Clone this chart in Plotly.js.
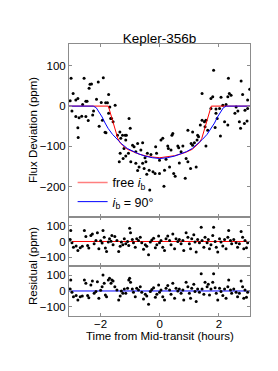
<!DOCTYPE html>
<html>
<head>
<meta charset="utf-8">
<script src="https://cdn.plot.ly/plotly-3.0.1.min.js"></script>
<style>html,body{margin:0;padding:0;background:#fff;}#chart{width:278px;height:371px;}</style>
</head>
<body>
<div id="chart"></div>
<script>
// ---- data ----
const titleText = "Kepler-356b";
const fluxX = [-3.03,-2.84,-2.77,-2.93,-3.0,-2.56,-2.39,-2.36,-2.08,-1.91,-2.5,-2.46,-2.61,-2.14,-1.98,-1.83,-1.73,-1.77,-1.69,-1.51,-2.97,-2.84,-2.73,-2.64,-2.5,-2.42,-2.27,-2.24,-2.77,-2.05,-1.94,-1.85,-1.73,-1.66,-1.63,-1.58,-1.04,-1.0,-1.35,-1.26,-1.13,-1.43,-2.76,-1.82,-2.31,
-1.17,-1.32,-1.15,-1.21,-1.34,-0.92,-0.87,-0.75,-0.58,-0.64,-0.81,-1.37,-1.24,-1.15,-1.06,-0.98,-0.81,-0.70,-0.75,-0.58,-0.47,-0.53,-0.44,-0.36,-0.23,-0.16,-0.14,-0.11,-0.30,-0.42,-0.50,-0.34,
0.04,0.10,0.41,0.44,0.27,0.29,0.38,0.61,0.78,0.64,0.72,-0.01,0.21,0.33,-0.01,0.16,0.47,0.52,0.66,0.89,0.95,1.04,1.23,0.86,0.14,0.95,1.11,1.06,1.11,1.17,1.26,1.31,1.56,1.62,2.05,1.87,1.28,
1.82,2.32,2.75,1.43,1.73,1.79,2.07,2.30,2.35,2.41,2.80,2.97,3.04,1.73,1.90,2.02,2.13,2.24,2.58,2.64,2.54,2.88,2.97,1.90,1.94,2.19,2.30,2.69,2.73,2.86,2.95,1.43,1.37,1.51,1.56,1.53];
const fluxY = [13,15,19,31,69,69,44,54,60,70,12,12,4,17,9,8,29,8,-2,2,-12,-26,-29,-25,-26,-36,-22,-12,-54,-50,-35,-65,-18,-31,-31,-39,-31,-55,-64,-72,-72,-72,-78,-66,55,
-72,-80,-84,-105,-117,-97,-101,-93,-91,-109,-113,-138,-130,-124,-117,-138,-142,-151,-160,-142,-138,-155,-169,-159,-163,-167,-101,-117,-120,-117,-128,-208,
-84,-80,-72,-68,-99,-105,-109,-99,-99,-103,-113,-134,-132,-151,-167,-159,-167,-174,-141,-130,-138,-155,-151,-179,-199,-60,-64,-93,-97,-91,-84,-76,-99,-60,-74,-53,-72,
89,69,62,31,19,23,22,23,31,27,29,15,42,-6,-7,-6,2,4,-2,-12,-18,-10,-6,-18,-31,-39,-47,-39,-55,-43,-37,-35,-47,-39,-35,-51];

const freeModelX = [-3.07,-1.74,-1.6,-1.5,-1.42,-1.35,-1.25,-1.1,-0.9,-0.7,-0.5,-0.3,0,0.3,0.5,0.7,0.9,1.1,1.25,1.35,1.42,1.5,1.6,1.74,3.05];
const freeModelY = [0,0,-35,-60,-80,-90,-98,-107,-114,-119,-123,-126,-128,-126,-123,-119,-114,-107,-98,-90,-80,-60,-35,0,0];
const i90ModelX = [-3.07,-2.25,-2.15,-2.05,-1.95,-1.85,-1.75,-1.6,-1.45,-1.3,-1.1,-0.9,-0.7,-0.5,-0.25,0,0.25,0.5,0.7,0.9,1.1,1.3,1.45,1.6,1.75,1.85,1.95,2.05,2.15,2.25,3.05];
const i90ModelY = [0,0,-4,-14,-27,-42,-55,-70,-82,-93,-105,-113,-119,-124,-128,-130,-128,-124,-119,-113,-105,-93,-82,-70,-55,-42,-27,-14,-4,0,0];

const resFreeX = [-3.01,-3.03,-2.97,-2.92,-2.83,-2.77,-2.69,-2.62,-2.55,-2.50,-2.44,-2.40,-2.33,-2.28,-2.22,-2.16,-2.11,-2.06,-2.00,-1.95,-1.92,-1.88,-1.84,-1.80,-1.74,-1.70,-1.65,-1.62,-1.58,-1.52,-1.45,-1.39,-1.34,-1.30,-1.25,-1.20,-1.15,-1.09,-1.05,-1.02,-0.99,-0.93,-0.89,-0.83,-0.78,-0.72,-0.66,-0.61,-0.55,-0.49,-0.44,-0.38,-0.32,-0.27,-0.21,-0.15,-0.10,-0.04,
-0.01,0.04,0.10,0.16,0.21,0.27,0.33,0.38,0.44,0.50,0.55,0.61,0.66,0.72,0.78,0.81,0.89,0.95,1.00,1.04,1.08,1.15,1.19,1.23,1.28,1.34,1.40,1.43,1.49,1.53,1.60,1.64,1.68,1.73,1.79,1.82,1.87,1.91,1.96,2.02,2.07,2.13,2.19,2.24,2.30,2.33,2.39,2.43,2.50,2.58,2.63,2.69,2.75,2.80,2.84,2.88,2.93,2.97];
const resFreeY = [69,13,-8,-36,-29,-57,-40,-31,69,31,-25,-42,38,48,-15,6,55,-46,4,-10,69,27,-42,-63,-4,17,2,38,-21,31,6,-63,-31,-4,-21,17,-15,0,-25,84,55,13,-8,-36,17,6,27,-8,-50,-21,-31,-84,-4,10,21,-40,-21,34,
-8,6,-36,-57,17,34,6,-21,48,-46,17,0,13,-15,6,-57,55,27,-15,-46,17,42,-4,-67,13,-8,90,6,-36,27,-8,13,-46,-21,38,90,0,-36,-67,17,-4,-29,13,-46,27,69,6,-15,13,-8,-36,-15,63,27,-46,6,-40,-8];

const resI90X = resFreeX.slice();
const resI90Y = [69,13,-8,-36,-29,-57,-36,-31,69,48,-29,-42,38,63,-15,-4,59,-46,4,27,101,48,-25,-36,69,80,48,69,63,27,6,-57,-31,0,-15,13,-15,17,69,80,55,13,-8,-36,17,6,27,-8,-50,-21,-31,-84,-4,10,21,-40,-21,38,
-8,6,-36,-57,17,34,6,-21,48,-46,17,0,13,-15,6,-57,55,27,-15,-46,17,42,-4,-67,13,-8,109,13,-21,55,27,42,-25,13,55,109,21,-15,-57,17,-4,-29,13,-46,27,69,6,-15,13,-8,-36,-15,63,27,-46,6,-40,-8];

const resZeroX = [-3.07, 3.05];
const resZeroY = [0, 0];

const xTickVals = [-2, 0, 2];
const xTitle = "Time from Mid-transit (hours)";
const yTitleMain = "Flux Deviation (ppm)";
const yTitleRes = "Residual (ppm)";
const legendFree = "free <i>i</i><sub>b</sub>";
const legend90 = "<i>i</i><sub>b</sub> = 90°";

// ---- chart ----
const FONT = "Liberation Sans, Arial, sans-serif";
const GRAY = "#8c8c8c";
const dot = {color: "black", size: 3};

const traces = [
  {x: fluxX, y: fluxY, xaxis: "x3", yaxis: "y3", mode: "markers", marker: dot, showlegend: false, hoverinfo: "skip"},
  {x: freeModelX, y: freeModelY, xaxis: "x3", yaxis: "y3", mode: "lines", line: {color: "red", width: 1}, showlegend: false},
  {x: i90ModelX, y: i90ModelY, xaxis: "x3", yaxis: "y3", mode: "lines", line: {color: "blue", width: 1}, showlegend: false},
  {x: [null], y: [null], xaxis: "x3", yaxis: "y3", mode: "lines", line: {color: "rgba(255,0,0,0.5)", width: 1.5}, name: legendFree},
  {x: [null], y: [null], xaxis: "x3", yaxis: "y3", mode: "lines", line: {color: "blue", width: 1}, name: legend90},
  {x: resZeroX, y: resZeroY, xaxis: "x2", yaxis: "y2", mode: "lines", line: {color: "red", width: 1}, showlegend: false},
  {x: resFreeX, y: resFreeY, xaxis: "x2", yaxis: "y2", mode: "markers", marker: dot, showlegend: false},
  {x: resZeroX, y: resZeroY, xaxis: "x", yaxis: "y", mode: "lines", line: {color: "blue", width: 1}, showlegend: false},
  {x: resI90X, y: resI90Y, xaxis: "x", yaxis: "y", mode: "markers", marker: dot, showlegend: false}
];

const xRange = [-3.07, 3.05];
function xAx(show, anchor) {
  return {range: xRange, domain: [0, 1], anchor: anchor, tickvals: xTickVals, showticklabels: show,
    ticks: "inside", ticklen: 3, tickcolor: GRAY, showline: true, mirror: "ticks", linecolor: GRAY, linewidth: 1,
    showgrid: false, zeroline: false, tickfont: {size: 11.5, color: "#000"}, ticklabelstandoff: -3};
}
function yAx(range, domain, anchor) {
  return {range: range, domain: domain, anchor: anchor, dtick: 100, tick0: 0,
    ticks: "inside", ticklen: 3, tickcolor: GRAY, showline: true, mirror: "ticks", linecolor: GRAY, linewidth: 1,
    showgrid: false, zeroline: false, tickfont: {size: 11.5, color: "#000"}};
}

const layout = {
  width: 278, height: 371,
  margin: {l: 69, r: 28, t: 44, b: 55},
  paper_bgcolor: "white", plot_bgcolor: "white",
  font: {family: FONT, color: "#000"},
  title: {text: titleText, font: {size: 13.5, family: FONT}, x: 0.5, xref: "paper", y: 1 - 38/371, yanchor: "middle"},
  xaxis: xAx(true, "y"),
  xaxis2: xAx(false, "y2"),
  xaxis3: xAx(false, "y3"),
  yaxis: yAx([-158, 158], [0, 0.184], "x"),
  yaxis2: yAx([-155, 155], [0.184, 0.364], "x2"),
  yaxis3: yAx([-275, 154], [0.364, 1], "x3"),
  showlegend: true,
  legend: {x: 0.02, y: 0.545, xanchor: "left", yanchor: "top", bgcolor: "rgba(0,0,0,0)", font: {size: 12.5, family: FONT}, tracegroupgap: 0},
  annotations: [
    {text: yTitleMain, xref: "paper", yref: "paper", x: (33 - 69) / 181, y: (316 - 130) / 272, textangle: -90, showarrow: false, font: {size: 11.5}, xanchor: "center", yanchor: "middle"},
    {text: yTitleRes, xref: "paper", yref: "paper", x: (33 - 69) / 181, y: (316 - 266) / 272, textangle: -90, showarrow: false, font: {size: 11.5}, xanchor: "center", yanchor: "middle"},
    {text: xTitle, xref: "paper", yref: "paper", x: 0.5, y: (316 - 336) / 272, showarrow: false, font: {size: 11.5}, xanchor: "center", yanchor: "middle"}
  ]
};

Plotly.newPlot("chart", traces, layout, {displayModeBar: false, staticPlot: true});
</script>
</body>
</html>
